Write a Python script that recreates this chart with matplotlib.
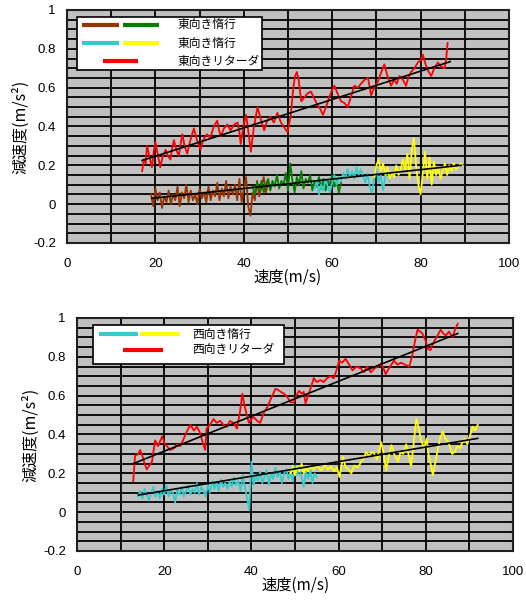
import matplotlib
matplotlib.use("Agg")
import matplotlib.pyplot as plt
from matplotlib.patches import Rectangle
from matplotlib.ticker import MultipleLocator, FuncFormatter

plt.rcParams["font.family"] = ["Liberation Sans", "DejaVu Sans"]
plt.rcParams["axes.unicode_minus"] = False
JP = ["Noto Sans CJK JP", "DejaVu Sans"]

# ---- east bound (top chart) ----
east_ret_x = [17.0, 17.4, 17.8, 18.1, 18.6, 19.2, 19.6, 20.0, 20.5, 21.1, 21.6, 22.3, 22.8, 23.4, 23.8,
              24.2, 24.7, 25.3, 25.7, 26.1, 26.6, 27.2, 27.8, 28.3, 28.7, 29.4, 30.2, 30.8, 31.7, 32.4,
              33.2, 34.0, 34.4, 34.8, 35.5, 36.3, 37.0, 37.8, 38.6, 39.0, 39.3, 39.9, 40.5, 41.0, 41.6,
              42.3, 43.1, 43.8, 44.6, 45.3, 46.0, 46.8, 47.6, 48.4, 49.0, 49.9, 50.3, 50.6, 51.2, 51.6,
              52.0, 52.4, 53.0, 53.7, 54.4, 55.2, 55.8, 56.7, 57.3, 57.9, 58.6, 59.3, 60.0, 60.5, 61.2,
              62.0, 62.8, 63.5, 64.2, 65.0, 65.8, 66.5, 67.3, 68.1, 68.8, 69.5, 70.3, 71.1, 71.8, 72.5,
              73.3, 74.0, 74.6, 75.2, 76.0, 76.7, 77.2, 77.8, 78.6, 79.4, 80.0, 80.5, 81.0, 81.6, 82.4,
              83.1, 83.9, 84.6, 85.4, 85.8, 86.1]
east_ret_y = [0.17, 0.23, 0.21, 0.30, 0.25, 0.19, 0.27, 0.32, 0.26, 0.19, 0.24, 0.28, 0.25, 0.23, 0.29,
              0.33, 0.28, 0.25, 0.31, 0.36, 0.30, 0.26, 0.32, 0.36, 0.39, 0.33, 0.28, 0.33, 0.36, 0.34,
              0.40, 0.43, 0.38, 0.35, 0.39, 0.41, 0.38, 0.41, 0.42, 0.37, 0.31, 0.40, 0.46, 0.38, 0.27,
              0.40, 0.50, 0.44, 0.38, 0.43, 0.45, 0.42, 0.47, 0.42, 0.40, 0.37, 0.42, 0.45, 0.60, 0.66,
              0.68, 0.64, 0.53, 0.55, 0.57, 0.58, 0.55, 0.51, 0.49, 0.46, 0.50, 0.55, 0.59, 0.61, 0.57,
              0.53, 0.52, 0.50, 0.55, 0.61, 0.60, 0.62, 0.64, 0.65, 0.56, 0.60, 0.63, 0.68, 0.72, 0.66,
              0.61, 0.64, 0.62, 0.66, 0.64, 0.61, 0.65, 0.68, 0.70, 0.73, 0.74, 0.77, 0.73, 0.69, 0.66,
              0.70, 0.73, 0.71, 0.70, 0.75, 0.83]
east_ret_fit_x = [17.0, 86.7]
east_ret_fit_y = [0.225, 0.734]

east_brown_x = [19.0, 19.5, 20.0, 20.5, 21.0, 21.5, 22.0, 22.5, 23.0, 23.5, 24.0, 24.5, 25.0, 25.5,
                26.0, 26.5, 27.0, 27.5, 28.0, 28.5, 29.0, 29.5, 30.0, 30.5, 31.0, 31.5, 32.0, 32.5,
                33.0, 33.5, 34.0, 34.5, 35.0, 35.5, 36.0, 36.5, 37.0, 37.5, 38.0, 38.5, 39.0, 39.5,
                40.0, 40.5, 41.0, 41.5, 42.0, 42.5, 43.0, 43.5, 44.0, 44.5, 45.0, 45.5, 46.0]
east_brown_y = [0.05, -0.01, 0.08, 0.02, 0.06, -0.02, 0.04, 0.01, 0.07, 0.00, 0.05, 0.02, 0.09, -0.01,
                0.06, 0.03, 0.10, 0.01, 0.07, 0.02, 0.05, 0.00, 0.08, 0.03, 0.06, 0.01, 0.09, 0.02,
                0.07, 0.04, 0.11, 0.02, 0.08, 0.04, 0.12, 0.03, 0.09, 0.05, 0.10, 0.02, 0.13, 0.01,
                0.08, 0.14, -0.01, -0.06, 0.06, 0.02, 0.12, 0.04, 0.09, 0.14, 0.06, 0.11, 0.08]

east_green_x = [42.0, 42.5, 43.0, 43.5, 44.0, 44.5, 45.0, 45.5, 46.0, 46.5, 47.0, 47.5, 48.0, 48.5,
                49.0, 49.5, 50.0, 50.5, 51.0, 51.5, 52.0, 52.5, 53.0, 53.5, 54.0, 54.5, 55.0, 55.5,
                56.0, 56.5, 57.0, 57.5, 58.0, 58.5, 59.0, 59.5, 60.0, 60.5, 61.0, 61.5, 62.0]
east_green_y = [0.09, 0.05, 0.11, 0.07, 0.12, 0.06, 0.10, 0.13, 0.07, 0.12, 0.09, 0.15, 0.08, 0.12,
                0.10, 0.16, 0.07, 0.21, 0.12, 0.06, 0.14, 0.10, 0.17, 0.08, 0.13, 0.11, 0.15, 0.07,
                0.12, 0.09, 0.14, 0.08, 0.13, 0.07, 0.12, 0.10, 0.15, 0.09, 0.13, 0.06, 0.11]

east_cyan_x = [56.0, 56.5, 57.0, 57.5, 58.0, 58.5, 59.0, 59.5, 60.0, 60.5, 61.0, 61.5, 62.0, 62.5,
               63.0, 63.5, 64.0, 64.5, 65.0, 65.5, 66.0, 66.5, 67.0, 67.5, 68.0, 68.5, 69.0, 69.5,
               70.0, 70.5, 71.0, 71.5, 72.0, 72.5, 73.0]
east_cyan_y = [0.08, 0.12, 0.05, 0.10, 0.07, 0.13, 0.09, 0.06, 0.11, 0.15, 0.10, 0.14, 0.12, 0.16,
               0.13, 0.18, 0.14, 0.17, 0.13, 0.19, 0.15, 0.18, 0.14, 0.11, 0.16, 0.09, 0.06, 0.13,
               0.18, 0.11, 0.15, 0.07, 0.14, 0.17, 0.12]

east_yellow_x = [69.5, 70.0, 70.5, 71.0, 71.5, 72.0, 72.5, 73.0, 73.5, 74.0, 74.5, 75.0, 75.5, 76.0,
                 76.5, 77.0, 77.5, 78.0, 78.5, 79.0, 79.5, 80.0, 80.5, 81.0, 81.5, 82.0, 82.5, 83.0,
                 83.5, 84.0, 84.5, 85.0, 85.5, 86.0, 86.5, 87.0, 87.5, 88.0, 88.5, 89.0, 89.5]
east_yellow_y = [0.14, 0.20, 0.23, 0.17, 0.21, 0.15, 0.19, 0.13, 0.16, 0.14, 0.20, 0.15, 0.18, 0.23,
                 0.17, 0.26, 0.13, 0.28, 0.34, 0.19, 0.10, 0.05, 0.16, 0.27, 0.13, 0.24, 0.10, 0.22,
                 0.15, 0.19, 0.13, 0.17, 0.21, 0.15, 0.20, 0.17, 0.21, 0.18, 0.19, 0.21, 0.20]
east_coast_fit_x = [19.2, 89.2]
east_coast_fit_y = [0.03, 0.20]

# ---- west bound (bottom chart) ----
west_ret_x = [12.9, 13.3, 14.0, 14.5, 15.0, 15.5, 16.0, 16.6, 17.2, 17.9, 18.6, 19.5, 20.2, 21.0, 21.4,
              22.3, 23.0, 23.7, 24.5, 25.3, 26.0, 26.8, 27.5, 28.2, 28.8, 29.4, 29.7, 30.5, 31.3, 32.0,
              32.8, 33.6, 34.3, 35.1, 35.9, 36.7, 37.4, 37.9, 38.5, 39.4, 40.0, 40.5, 41.3, 42.0, 42.8,
              43.6, 44.4, 45.5, 46.1, 46.7, 47.5, 48.3, 49.0, 49.7, 50.3, 50.9, 51.5, 52.0, 52.4, 53.0,
              53.6, 54.3, 55.0, 55.8, 56.6, 57.3, 58.1, 58.9, 59.5, 60.1, 60.8, 61.6, 62.4, 63.2, 64.1,
              65.1, 65.8, 66.5, 67.4, 68.2, 69.0, 69.7, 70.3, 70.8, 71.5, 72.1, 72.7, 73.5, 74.3, 75.2,
              76.2, 76.9, 77.5, 78.1, 78.7, 79.2, 79.6, 80.0, 80.5, 81.1, 81.5, 81.9, 82.7, 83.4, 84.0,
              84.6, 85.3, 86.1, 86.7, 87.3]
west_ret_y = [0.16, 0.29, 0.30, 0.32, 0.29, 0.25, 0.22, 0.24, 0.26, 0.37, 0.34, 0.39, 0.35, 0.33, 0.32,
              0.33, 0.35, 0.34, 0.38, 0.42, 0.45, 0.42, 0.44, 0.41, 0.36, 0.32, 0.43, 0.45, 0.48, 0.46,
              0.47, 0.45, 0.44, 0.47, 0.46, 0.43, 0.52, 0.61, 0.54, 0.46, 0.48, 0.49, 0.47, 0.46, 0.51,
              0.54, 0.58, 0.635, 0.63, 0.62, 0.61, 0.59, 0.565, 0.565, 0.60, 0.625, 0.61, 0.62, 0.56, 0.60,
              0.64, 0.69, 0.67, 0.68, 0.67, 0.69, 0.70, 0.69, 0.73, 0.78, 0.77, 0.79, 0.76, 0.73, 0.75,
              0.74, 0.72, 0.75, 0.72, 0.74, 0.75, 0.765, 0.74, 0.71, 0.74, 0.76, 0.78, 0.76, 0.77, 0.76,
              0.75, 0.81, 0.88, 0.94, 0.93, 0.92, 0.90, 0.88, 0.84, 0.835, 0.86, 0.88, 0.91, 0.94, 0.92,
              0.91, 0.93, 0.90, 0.94, 0.97]
west_ret_fit_x = [12.9, 87.3]
west_ret_fit_y = [0.25, 0.92]

west_cyan_x = [14.0, 14.5, 15.0, 15.5, 16.0, 16.5, 17.0, 17.5, 18.0, 18.5, 19.0, 19.5, 20.0, 20.5,
               21.0, 21.5, 22.0, 22.5, 23.0, 23.5, 24.0, 24.5, 25.0, 25.5, 26.0, 26.5, 27.0, 27.5,
               28.0, 28.5, 29.0, 29.5, 30.0, 30.5, 31.0, 31.5, 32.0, 32.5, 33.0, 33.5, 34.0, 34.5,
               35.0, 35.5, 36.0, 36.5, 37.0, 37.5, 38.0, 38.5, 39.0, 39.5, 40.0, 40.5, 41.0, 41.5,
               42.0, 42.5, 43.0, 43.5, 44.0, 44.5, 45.0, 45.5, 46.0, 46.5, 47.0, 47.5, 48.0, 48.5,
               49.0, 49.5, 50.0, 50.5, 51.0, 51.5, 52.0, 52.5, 53.0, 53.5, 54.0, 54.5, 55.0]
west_cyan_y = [0.08, 0.11, 0.07, 0.12, 0.09, 0.06, 0.10, 0.13, 0.08, 0.11, 0.07, 0.12, 0.09, 0.14,
               0.08, 0.11, 0.10, 0.05, 0.12, 0.09, 0.13, 0.08, 0.11, 0.14, 0.09, 0.12, 0.10, 0.15,
               0.09, 0.13, 0.11, 0.08, 0.14, 0.10, 0.16, 0.12, 0.15, 0.11, 0.17, 0.13, 0.15, 0.12,
               0.16, 0.13, 0.18, 0.14, 0.16, 0.11, 0.19, 0.13, 0.07, 0.01, 0.26, 0.14, 0.19, 0.16,
               0.21, 0.15, 0.18, 0.22, 0.14, 0.20, 0.17, 0.23, 0.18, 0.21, 0.15, 0.20, 0.22, 0.17,
               0.21, 0.16, 0.24, 0.19, 0.23, 0.18, 0.13, 0.21, 0.17, 0.22, 0.15, 0.20, 0.18]

west_yellow_x = [49.0, 49.5, 50.0, 50.5, 51.0, 51.5, 52.0, 52.5, 53.0, 53.6, 54.2, 55.0, 56.0, 56.8,
                 57.5, 58.3, 59.0, 59.6, 60.2, 61.0, 61.6, 62.3, 62.9, 63.6, 64.4, 65.2, 65.8, 66.3,
                 67.0, 67.6, 68.2, 68.8, 69.3, 69.8, 70.3, 70.9, 71.5, 72.1, 72.7, 73.2, 73.6, 74.2,
                 74.8, 75.5, 76.1, 76.6, 77.1, 77.8, 78.3, 78.9, 79.6, 80.2, 80.5, 81.0, 81.6, 82.2,
                 82.8, 83.4, 83.9, 84.4, 85.0, 85.5, 86.0, 86.6, 87.2, 87.8, 88.4, 88.9, 89.5, 90.2,
                 90.8, 91.3, 91.9]
west_yellow_y = [0.20, 0.24, 0.19, 0.235, 0.21, 0.25, 0.20, 0.23, 0.21, 0.235, 0.22, 0.24, 0.215, 0.24,
                 0.22, 0.235, 0.21, 0.23, 0.18, 0.285, 0.23, 0.22, 0.20, 0.24, 0.23, 0.26, 0.28, 0.31,
                 0.29, 0.31, 0.30, 0.27, 0.32, 0.36, 0.30, 0.215, 0.29, 0.345, 0.30, 0.28, 0.26, 0.31,
                 0.30, 0.35, 0.29, 0.235, 0.33, 0.48, 0.44, 0.37, 0.33, 0.38, 0.31, 0.26, 0.19, 0.26,
                 0.33, 0.39, 0.415, 0.38, 0.365, 0.34, 0.30, 0.31, 0.34, 0.33, 0.36, 0.38, 0.35, 0.40,
                 0.44, 0.42, 0.45]
west_coast_fit_x = [14.1, 91.9]
west_coast_fit_y = [0.088, 0.38]

BROWN, GREEN, CYAN, YELLOW, RED = "#993300", "#008000", "#33cccc", "#ffff00", "#ff0000"


def setup(ax):
    ax.set_facecolor("#c0c0c0")
    ax.set_xlim(0, 100)
    ax.set_ylim(-0.2, 1.0)
    ax.xaxis.set_major_locator(MultipleLocator(20))
    ax.xaxis.set_minor_locator(MultipleLocator(10))
    ax.yaxis.set_major_locator(MultipleLocator(0.2))
    ax.yaxis.set_minor_locator(MultipleLocator(0.05))
    ax.yaxis.set_major_formatter(FuncFormatter(lambda v, p: "%g" % round(v, 2)))
    ax.grid(which="both", color="black", lw=1.3)
    ax.set_axisbelow(True)
    ax.tick_params(which="both", length=0, labelsize=9.5)
    ax.tick_params(axis="x", pad=11)
    ax.tick_params(axis="y", pad=8)
    for s in ax.spines.values():
        s.set_linewidth(1.5)
        s.set_color("#202020")
    ax.set_xlabel("速度(m/s)", family=JP, fontsize=11, labelpad=-1)
    ax.set_ylabel("減速度(m/s²)", family=JP, fontsize=11.5, labelpad=3)


def legend_box(ax, box, rows):
    x0, y0, x1, y1 = box
    ax.add_patch(Rectangle((x0, y0), x1 - x0, y1 - y0, transform=ax.transAxes,
                           facecolor="white", edgecolor="black", lw=1.2, zorder=5))
    for y, segs, label, tx in rows:
        for (sx0, sx1, c) in segs:
            ax.plot([sx0, sx1], [y, y], color=c, lw=3, transform=ax.transAxes, zorder=6,
                    solid_capstyle="butt")
        ax.text(tx, y, label, transform=ax.transAxes, family=JP, fontsize=8.5,
                va="center", ha="left", zorder=6)


fig = plt.figure(figsize=(5.26, 6.01), dpi=100)
ax1 = fig.add_axes([0.1274, 0.5957, 0.8403, 0.3877])
ax2 = fig.add_axes([0.1464, 0.0832, 0.8290, 0.3877])

setup(ax1)
ax1.plot(east_ret_x, east_ret_y, color=RED, lw=1.3)
ax1.plot(east_brown_x, east_brown_y, color=BROWN, lw=1.3)
ax1.plot(east_green_x, east_green_y, color=GREEN, lw=1.3)
ax1.plot(east_cyan_x, east_cyan_y, color=CYAN, lw=1.3)
ax1.plot(east_yellow_x, east_yellow_y, color=YELLOW, lw=1.3)
ax1.plot(east_ret_fit_x, east_ret_fit_y, color="black", lw=1.2)
ax1.plot(east_coast_fit_x, east_coast_fit_y, color="black", lw=1.2)
legend_box(ax1, (0.023, 0.742, 0.441, 0.970), [
    (0.936, [(0.034, 0.118, BROWN), (0.127, 0.208, GREEN)], "東向き惰行", 0.251),
    (0.858, [(0.034, 0.118, CYAN), (0.127, 0.208, YELLOW)], "東向き惰行", 0.251),
    (0.781, [(0.081, 0.161, RED)], "東向きリターダ", 0.251),
])

setup(ax2)
ax2.plot(west_ret_x, west_ret_y, color=RED, lw=1.3)
ax2.plot(west_cyan_x, west_cyan_y, color=CYAN, lw=1.3)
ax2.plot(west_yellow_x, west_yellow_y, color=YELLOW, lw=1.3)
ax2.plot(west_ret_fit_x, west_ret_fit_y, color="black", lw=1.2)
ax2.plot(west_coast_fit_x, west_coast_fit_y, color="black", lw=1.2)
legend_box(ax2, (0.037, 0.803, 0.475, 0.970), [
    (0.931, [(0.050, 0.140, CYAN), (0.145, 0.236, YELLOW)], "西向き惰行", 0.264),
    (0.863, [(0.106, 0.197, RED)], "西向きリターダ", 0.264),
])

fig.savefig("out.png", dpi=100)
